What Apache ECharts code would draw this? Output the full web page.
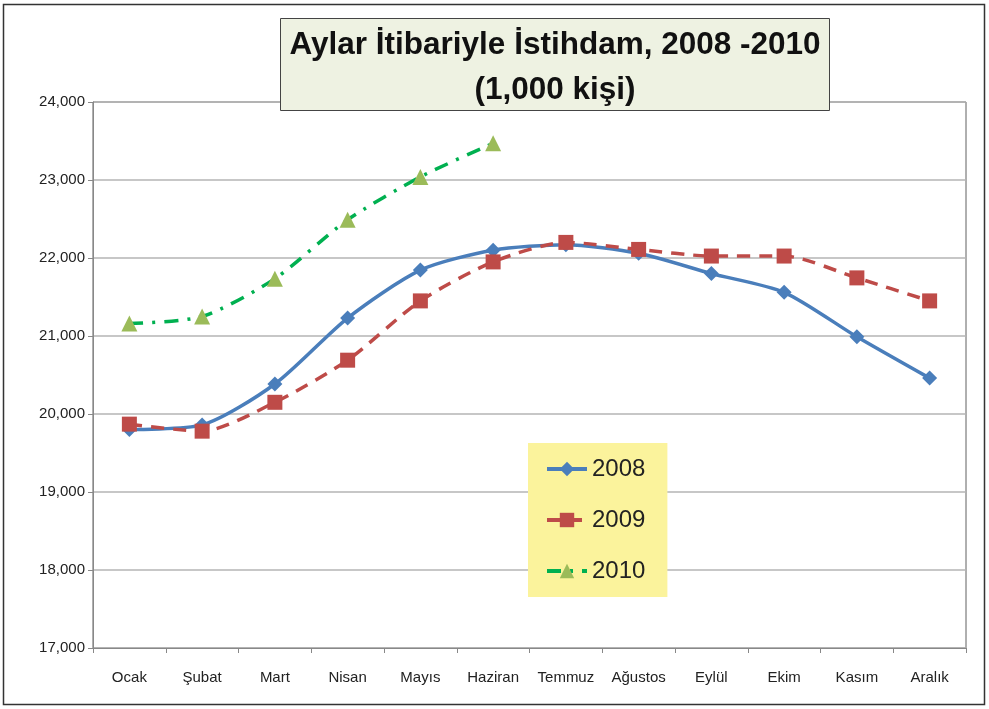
<!DOCTYPE html>
<html>
<head>
  <title>Aylar İtibariyle İstihdam</title>
  <meta charset="UTF-8">
  <script src="https://cdn.jsdelivr.net/npm/echarts@6/dist/echarts.min.js"></script>
  <style>
    html, body { margin: 0; padding: 0; background: #fff; }
  </style>
</head>
<body>
  <div id="myChart" style="width: 989px; height: 709px;"></div>

  <script>
    // aylar
    const months = ['Ocak', 'Şubat', 'Mart', 'Nisan', 'Mayıs', 'Haziran', 'Temmuz', 'Ağustos', 'Eylül', 'Ekim', 'Kasım', 'Aralık'];
    // istihdam (1,000 kişi)
    const y2008 = [19800, 19860, 20385, 21230, 21845, 22100, 22170, 22060, 21800, 21560, 20990, 20460];
    const y2009 = [19870, 19780, 20150, 20690, 21450, 21950, 22200, 22110, 22025, 22025, 21745, 21450];
    const y2010 = [21160, 21250, 21735, 22490, 23040, 23470];
    const titleLines = ['Aylar İtibariyle İstihdam, 2008 -2010', '(1,000 kişi)'];

    const myChart = echarts.init(document.getElementById('myChart'));
    const font = 'Arial, "Liberation Sans", sans-serif';

    const option = {
      backgroundColor: '#fff',
      animation: false,
      grid: {
        left: 93, right: 23, top: 102, bottom: 61,
        show: true, borderColor: '#606060', borderWidth: 1
      },
      legend: {
        orient: 'vertical',
        left: 528, top: 443,
        backgroundColor: '#fbf39c',
        padding: [14, 22, 14, 17],
        itemGap: 27,
        itemWidth: 40,
        itemHeight: 18,
        lineStyle: { width: 4 },
        textStyle: { fontFamily: font, fontSize: 24, color: '#222' },
        data: ['2008', '2009', '2010']
      },
      xAxis: {
        type: 'category',
        data: months,
        boundaryGap: true,
        axisLine: { lineStyle: { color: '#888' } },
        axisTick: { show: true, length: 5, inside: false, lineStyle: { color: '#888' } },
        axisLabel: { fontFamily: font, fontSize: 15, color: '#222', margin: 22, interval: 0 }
      },
      yAxis: {
        type: 'value',
        min: 17000, max: 24000, interval: 1000,
        axisLine: { show: true, lineStyle: { color: '#888' } },
        axisTick: { show: true, length: 5, lineStyle: { color: '#888' } },
        splitLine: { lineStyle: { color: '#b4b4b4', width: 1.5 } },
        axisLabel: {
          fontFamily: font, fontSize: 15, color: '#222', margin: 8,
          formatter: v => v.toLocaleString('en-US')
        }
      },
      series: [
        {
          name: '2008', type: 'line', data: y2008,
          smooth: 0.25,
          symbol: 'diamond', symbolSize: 15,
          lineStyle: { color: '#4a7ebb', width: 3.5 },
          itemStyle: { color: '#4a7ebb' },
          z: 3
        },
        {
          name: '2009', type: 'line', data: y2009,
          smooth: 0.25,
          symbol: 'rect', symbolSize: 15,
          lineStyle: { color: '#be4b48', width: 3.5, type: [13, 9] },
          itemStyle: { color: '#be4b48' },
          z: 4
        },
        {
          name: '2010', type: 'line', data: y2010,
          smooth: 0.25,
          symbol: 'triangle', symbolSize: 16,
          lineStyle: { color: '#00b050', width: 3.5, type: [14, 9, 3, 9] },
          itemStyle: { color: '#9bbb59' },
          z: 5
        }
      ],
      graphic: [
        {
          type: 'rect', z: 1,
          shape: { x: 3.5, y: 4.5, width: 981, height: 700 },
          style: { fill: null, stroke: '#333', lineWidth: 1.5 }
        },
        {
          type: 'rect', z: 10,
          shape: { x: 280.5, y: 18.5, width: 549, height: 92 },
          style: { fill: '#eef2e2', stroke: '#444', lineWidth: 1 }
        },
        {
          type: 'text', z: 11,
          style: {
            x: 555, y: 45,
            text: titleLines[0],
            textAlign: 'center', textVerticalAlign: 'middle',
            fontFamily: font, fontSize: 31.5, fontWeight: 'bold', fill: '#111'
          }
        },
        {
          type: 'text', z: 11,
          style: {
            x: 555, y: 90,
            text: titleLines[1],
            textAlign: 'center', textVerticalAlign: 'middle',
            fontFamily: font, fontSize: 31.5, fontWeight: 'bold', fill: '#111'
          }
        }
      ]
    };

    myChart.setOption(option);
  </script>
</body>
</html>
